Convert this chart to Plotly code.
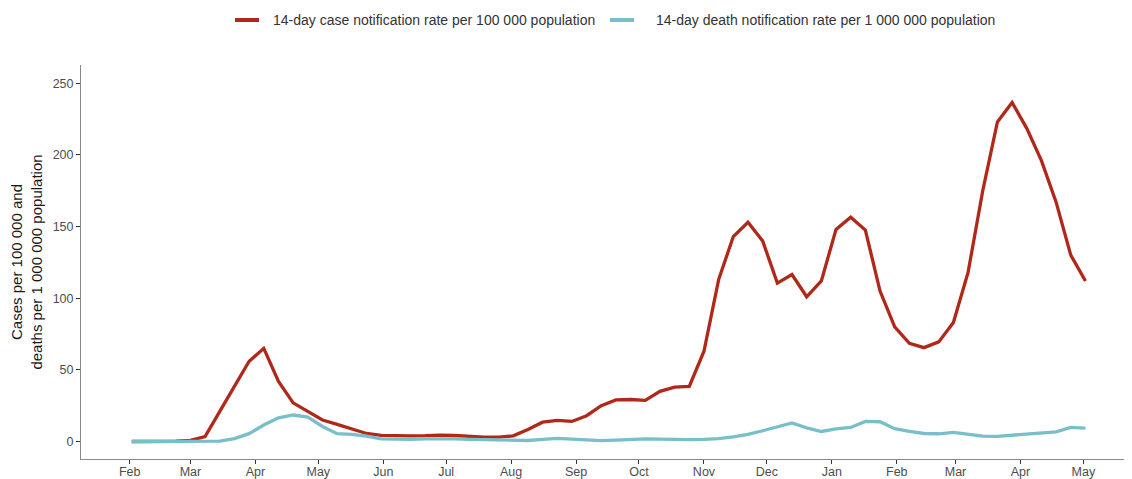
import pandas as pd
import plotly.graph_objects as go

weeks = pd.date_range("2020-02-02", periods=66, freq="7D")

case_rate = [0, 0, 0, 0.2, 0.8, 3.5, 21, 39, 56, 65,
             42, 27, 21, 15, 12, 8.5, 5.6, 4.3, 3.9, 4.0,
             4.1, 4.5, 4.2, 3.5, 3.0, 3.0, 4.0, 8.4, 13.5, 14.8,
             14.0, 18.0, 25.0, 29.0, 29.3, 28.7, 35.0, 38.0, 38.5, 63,
             113, 143, 153, 140, 110.5, 116.5, 101, 112, 148, 156.5,
             147.5, 105, 80, 68.5, 65.5, 69.5, 83, 118, 175, 223,
             236.5, 218.5, 196, 167, 130, 112]

death_rate = [0, 0, 0, 0, 0, 0, 0.3, 2.0, 5.5, 11.5,
              16.5, 18.5, 17.0, 10.5, 5.5, 5.0, 3.8, 1.9, 1.5, 1.5,
              1.8, 2.0, 1.8, 1.5, 1.2, 1.0, 0.8, 0.7, 1.5, 2.2,
              1.6, 0.9, 0.6, 0.9, 1.4, 1.9, 1.6, 1.2, 1.3, 1.5,
              2.0, 3.3, 5.0, 7.5, 10.0, 13.0, 9.5, 7.0, 8.8, 9.8,
              14.0, 13.8, 9.0, 7.0, 5.6, 5.4, 6.3, 5.2, 3.8, 3.6,
              4.3, 5.3, 5.6, 6.8, 9.8, 9.4]

series_names = ["14-day case notification rate per 100 000 population",
                "14-day death notification rate per 1 000 000 population"]
y_ticks = [0, 50, 100, 150, 200, 250]
x_ticks = pd.date_range("2020-02-01", "2021-05-01", freq="MS")

RED = "#B0281A"
TEAL = "#78BFC9"
AXIS = "#8a8a8a"
TXT = "#4d4d4d"

# page body has an 8px default margin; figure sized to fit the window
W, H = 1124, 471
ML, MT, MB, MR = 73, 57, 20, 0
PW, PH = W - ML - MR, H - MT - MB


def px_x(vx):  # viewport x -> paper x
    return (vx - 8 - ML) / PW


def px_y(vy):  # viewport y -> paper y
    return (H - MB - (vy - 8)) / PH


fig = go.Figure()
fig.add_trace(go.Scatter(x=weeks, y=case_rate, mode="lines", name=series_names[0],
                         line=dict(color=RED, width=3.3), showlegend=False))
fig.add_trace(go.Scatter(x=weeks, y=death_rate, mode="lines", name=series_names[1],
                         line=dict(color=TEAL, width=3.3), showlegend=False))

# custom legend (keys + labels) placed above the plot
legend_y = px_y(20)
for (k0, k1, tx), col, name in zip([(235, 259, 271), (610, 634, 654)],
                                   [RED, TEAL], series_names):
    fig.add_shape(type="line", xref="paper", yref="paper",
                  x0=px_x(k0), x1=px_x(k1), y0=legend_y, y1=legend_y,
                  line=dict(color=col, width=4))
    fig.add_annotation(xref="paper", yref="paper", x=px_x(tx), y=legend_y,
                       xanchor="left", yanchor="middle", showarrow=False,
                       text=name, font=dict(size=14, color="#333333"))

fig.update_layout(
    width=W, height=H,
    margin=dict(l=ML, r=MR, t=MT, b=MB, autoexpand=False),
    plot_bgcolor="white", paper_bgcolor="white",
    font=dict(family="Liberation Sans, Arial, sans-serif", size=12, color=TXT),
    showlegend=False,
    xaxis=dict(
        automargin=False,
        range=[pd.Timestamp("2020-01-08 19:00"), pd.Timestamp("2021-05-24 05:00")],
        tickvals=x_ticks, ticktext=[d.strftime("%b") for d in x_ticks],
        showgrid=False, zeroline=False,
        showline=True, linecolor=AXIS, linewidth=1,
        ticks="outside", ticklen=4, tickcolor="#333333", tickwidth=1,
        tickfont=dict(size=12.5, color=TXT), ticklabelstandoff=-3,
    ),
    yaxis=dict(
        automargin=False,
        range=[-12.2, 262.7],
        tickvals=y_ticks,
        showgrid=False, zeroline=False,
        showline=True, linecolor=AXIS, linewidth=1,
        ticks="outside", ticklen=4, tickcolor="#333333", tickwidth=1,
        tickfont=dict(size=12.5, color=TXT),
        title=dict(text="Cases per 100 000 and<br>deaths per 1 000 000 population",
                   font=dict(size=15, color="#1a1a1a"), standoff=6),
    ),
)

fig.write_html("out.html")
